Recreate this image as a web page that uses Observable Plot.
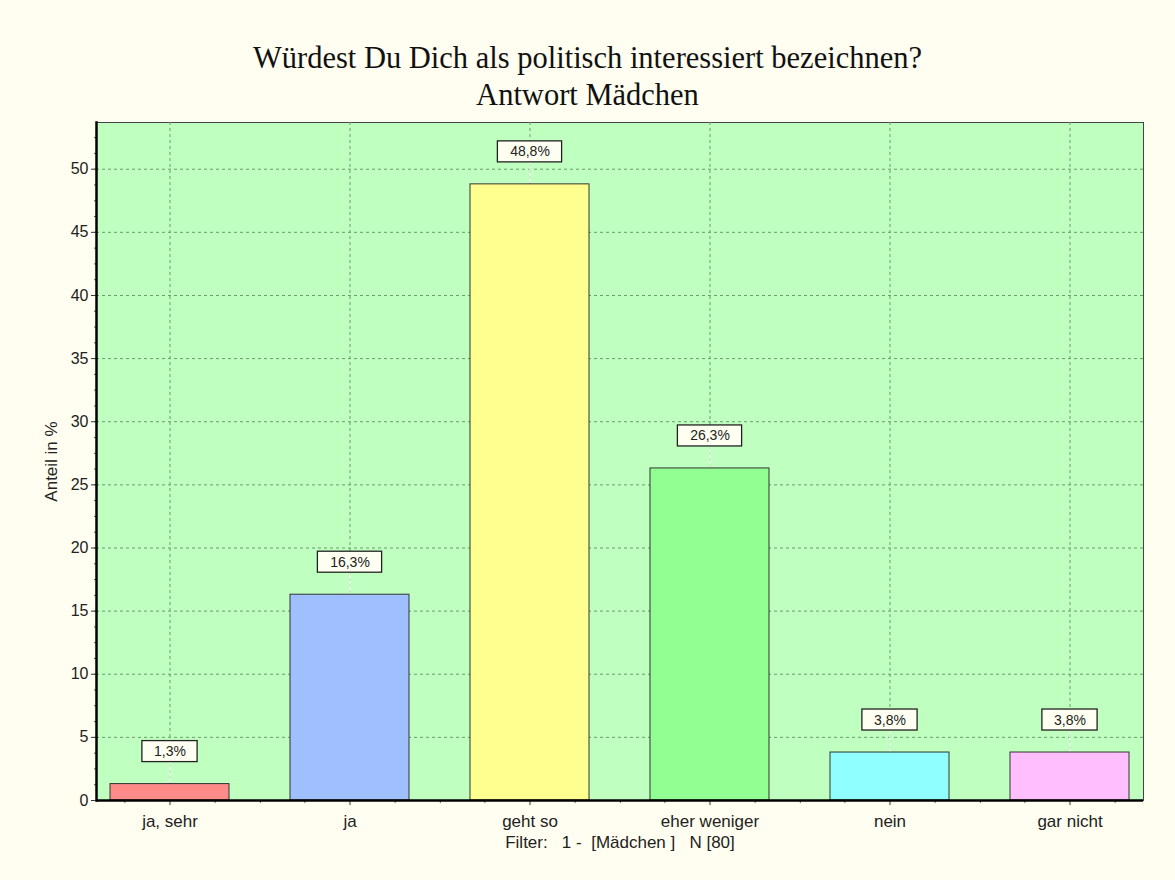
<!DOCTYPE html>
<html>
<head>
<meta charset="utf-8">
<script src="https://cdn.jsdelivr.net/npm/d3@7"></script>
<script src="https://cdn.jsdelivr.net/npm/@observablehq/plot@0.6"></script>
<style>
  html, body { margin: 0; padding: 0; background: #fffef0; }
  #wrap { position: relative; width: 1175px; height: 880px; background: #fffef0; overflow: hidden; }
  #title { position: absolute; left: 0; top: 40px; width: 1175px; text-align: center;
           font-family: "Liberation Serif", "Times New Roman", serif; font-size: 30.5px; line-height: 37px; color: #111; }
  #chart { position: absolute; left: 0; top: 114px; }
</style>
</head>
<body>
<div id="wrap">
  <div id="title">Würdest Du Dich als politisch interessiert bezeichnen?<br>Antwort Mädchen</div>
  <div id="chart"></div>
</div>
<script>
const categories = ["ja, sehr", "ja", "geht so", "eher weniger", "nein", "gar nicht"];
const values = [1.3, 16.3, 48.8, 26.3, 3.8, 3.8];
const valueLabels = ["1,3%", "16,3%", "48,8%", "26,3%", "3,8%", "3,8%"];
const barColors = ["#ff8a8a", "#a0bfff", "#ffff90", "#92ff92", "#90ffff", "#ffbfff"];
const yTicks = [0, 5, 10, 15, 20, 25, 30, 35, 40, 45, 50];
const yLabel = "Anteil in %";
const caption = "Filter:\u00a0\u00a0 1 -\u00a0 [Mädchen ]\u00a0\u00a0 N [80]";

const data = categories.map((c, i) => ({cat: c, value: values[i], label: valueLabels[i]}));

const W = 1175, H = 766;
const mL = 96, mR = 32, mT = 8, mB = 80;
const pInner = 0.337, pOuter = 0.066;
const step = (W - mL - mR) / (categories.length - pInner + 2 * pOuter);
const bw = step * (1 - pInner);
const yMax = 53.7;
const pxPerUnit = (H - mT - mB) / yMax;
const u = px => px / pxPerUnit;

const gridStyle = {stroke: "#6e9a6e", strokeOpacity: 1, strokeDasharray: "3,3", strokeWidth: 1};

const plot = Plot.plot({
  width: W, height: H,
  marginLeft: mL, marginRight: mR, marginTop: mT, marginBottom: mB,
  style: {fontFamily: "Liberation Sans, Arial, sans-serif", background: "transparent", color: "#222"},
  x: {domain: categories, paddingInner: pInner, paddingOuter: pOuter, align: 0.5, axis: null},
  y: {domain: [0, yMax], axis: null},
  color: {domain: categories, range: barColors},
  marks: [
    Plot.frame({fill: "#bfffbf", stroke: "#444", strokeWidth: 1}),
    Plot.gridY(yTicks, gridStyle),
    Plot.gridX(categories, gridStyle),
    Plot.ruleX(data, {x: "cat", y1: "value", y2: d => d.value + u(22), stroke: "#f4fff4", strokeWidth: 1.2}),
    Plot.barY(data, {x: "cat", y: "value", fill: "cat", stroke: "#333", strokeWidth: 1}),
    Plot.rect(data.filter(d => d.label.length >= 5), {x: "cat", y1: d => d.value + u(22), y2: d => d.value + u(43),
      insetLeft: (bw - 65) / 2, insetRight: (bw - 65) / 2, fill: "#fffff2", stroke: "#222", strokeWidth: 1.3}),
    Plot.rect(data.filter(d => d.label.length < 5), {x: "cat", y1: d => d.value + u(22), y2: d => d.value + u(43),
      insetLeft: (bw - 56) / 2, insetRight: (bw - 56) / 2, fill: "#fffff2", stroke: "#222", strokeWidth: 1.3}),
    Plot.text(data, {x: "cat", y: d => d.value + u(32.5), text: "label", fontSize: 14, fill: "#222", lineAnchor: "middle"}),
    Plot.axisY(yTicks, {tickSize: 5, tickPadding: 3, fontSize: 16, label: null, stroke: "#333"}),
    Plot.axisY(d3.range(0, 53.7, 1.25), {tickSize: 2, tickFormat: () => "", label: null, stroke: "#555"}),
    Plot.axisX({tickSize: 0, tickPadding: 14, fontSize: 17, label: null}),
    Plot.ruleX(categories, {x: d => d, y1: 0, y2: u(-5), stroke: "#333"}),
    Plot.ruleX(categories, {x: d => d, y1: 0, y2: u(-3), dx: -step / 4, stroke: "#666"}),
    Plot.ruleX(categories, {x: d => d, y1: 0, y2: u(-3), dx: step / 4, stroke: "#666"}),
    Plot.ruleX(categories.slice(0, -1), {x: d => d, y1: 0, y2: u(-3), dx: step / 2, stroke: "#666"}),
    Plot.ruleY([0], {stroke: "#000", strokeWidth: 2.5}),
    Plot.frame({anchor: "left", stroke: "#000", strokeWidth: 2.5}),
    Plot.text([yLabel], {frameAnchor: "left", dx: -45, rotate: -90, textAnchor: "middle", fontSize: 17, fill: "#222", lineAnchor: "middle"}),
    Plot.text([caption], {frameAnchor: "bottom", dy: 47, lineAnchor: "bottom", fontSize: 17, fill: "#222"})
  ]
});
document.getElementById("chart").appendChild(plot);
</script>
</body>
</html>
